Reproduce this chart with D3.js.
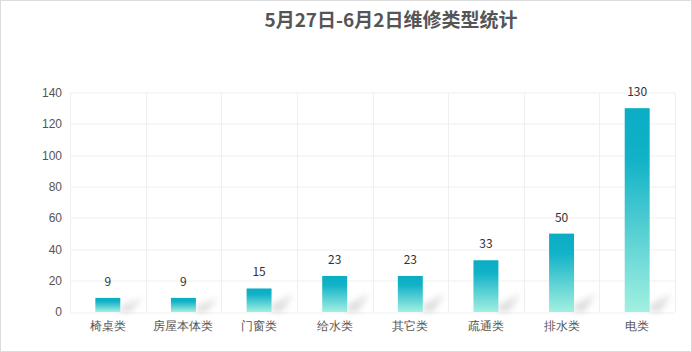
<!DOCTYPE html>
<html>
<head>
<meta charset="utf-8">
<title>维修类型统计</title>
<script src="https://d3js.org/d3.v7.min.js"></script>
<style>
    html, body { margin: 0; padding: 0; background: #fff; }
    #vis { width: 692px; height: 352px; }
    svg { font-family: 'Microsoft YaHei', 'Noto Sans CJK SC', sans-serif; }
</style>
</head>
<body>
<div id="vis"></div>
<script>
// data
var categories = ['椅桌类', '房屋本体类', '门窗类', '给水类', '其它类', '疏通类', '排水类', '电类'];
var counts = [9, 9, 15, 23, 23, 33, 50, 130];
var yTicks = [0, 20, 40, 60, 80, 100, 120, 140];
var title = '5月27日-6月2日维修类型统计';

var width = 692, height = 352;
var margin = {top: 92.5, bottom: 40, left: 70, right: 17};

var svg = d3.select('#vis').append('svg')
    .attr('width', width)
    .attr('height', height);

// outer frame
svg.append('rect')
    .attr('x', 0.5).attr('y', 0.5)
    .attr('width', width - 1).attr('height', height - 1)
    .attr('fill', '#fff').attr('stroke', '#dcdcdc');

var defs = svg.append('defs');
var grad = defs.append('linearGradient').attr('id', 'barGrad')
    .attr('x1', 0).attr('y1', 0).attr('x2', 0).attr('y2', 1);
grad.append('stop').attr('offset', '0%').attr('stop-color', '#09adc4');
grad.append('stop').attr('offset', '25%').attr('stop-color', '#12b2c7');
grad.append('stop').attr('offset', '100%').attr('stop-color', '#a2f0e1');

defs.append('filter').attr('id', 'blur')
    .attr('x', '-50%').attr('y', '-50%').attr('width', '200%').attr('height', '200%')
    .append('feGaussianBlur').attr('stdDeviation', 3);

var w = width - margin.left - margin.right;
var h = height - margin.top - margin.bottom;
var g = svg.append('g').attr('transform', 'translate(' + margin.left + ',' + margin.top + ')');

var x = d3.scaleBand().domain(categories).range([0, w]);
var y = d3.scaleLinear().domain([0, 140]).range([h, 0]);
var barW = x.bandwidth() * 0.33;

// grid
g.selectAll('.hgrid').data(yTicks).enter().append('line')
    .attr('x1', 0).attr('x2', w)
    .attr('y1', function(d) { return Math.round(y(d)) + 0.5; })
    .attr('y2', function(d) { return Math.round(y(d)) + 0.5; })
    .attr('stroke', '#efefef');
g.selectAll('.vgrid').data(d3.range(categories.length + 1)).enter().append('line')
    .attr('x1', function(i) { return Math.round(i * x.step()) + 0.5; })
    .attr('x2', function(i) { return Math.round(i * x.step()) + 0.5; })
    .attr('y1', 0).attr('y2', h)
    .attr('stroke', '#efefef');

// y axis labels
var yAxis = g.append('g').call(d3.axisLeft(y).tickValues(yTicks).tickSize(0).tickPadding(8));
yAxis.select('.domain').remove();
yAxis.selectAll('text').attr('fill', '#555').style('font-size', '12px');

// x axis labels
var xAxis = g.append('g').attr('transform', 'translate(0,' + h + ')')
    .call(d3.axisBottom(x).tickSize(0).tickPadding(9));
xAxis.select('.domain').remove();
xAxis.selectAll('text').attr('fill', '#555').style('font-size', '12px');

// soft shadows to the right of each bar
g.selectAll('.shadow').data(counts).enter().append('path')
    .attr('fill', '#d0d0d0')
    .attr('opacity', 0.7)
    .attr('filter', 'url(#blur)')
    .attr('d', function(d, i) {
        var x0 = x(categories[i]) + x.bandwidth() / 2 + barW / 2;
        var sh = Math.min(h - y(d), 18);
        return 'M' + x0 + ',' + h + 'L' + x0 + ',' + (h - sh * 0.4) +
            'L' + (x0 + 22) + ',' + (h - sh) + 'L' + (x0 + 10) + ',' + h + 'Z';
    });

// bars
g.selectAll('.bar').data(counts).enter().append('rect')
    .attr('class', 'bar')
    .attr('x', function(d, i) { return x(categories[i]) + x.bandwidth() / 2 - barW / 2; })
    .attr('y', function(d) { return y(d); })
    .attr('width', barW)
    .attr('height', function(d) { return h - y(d); })
    .attr('fill', 'url(#barGrad)');

// value labels
g.selectAll('.val').data(counts).enter().append('text')
    .attr('x', function(d, i) { return x(categories[i]) + x.bandwidth() / 2; })
    .attr('y', function(d) { return y(d) - 12; })
    .attr('text-anchor', 'middle')
    .attr('fill', '#333')
    .style('font-size', '12px')
    .text(function(d) { return d; });

svg.append('text')
    .attr('x', 391).attr('y', 27)
    .attr('text-anchor', 'middle')
    .attr('fill', '#555')
    .style('font-size', '19px')
    .style('font-weight', 'bold')
    .text(title);
</script>
</body>
</html>
